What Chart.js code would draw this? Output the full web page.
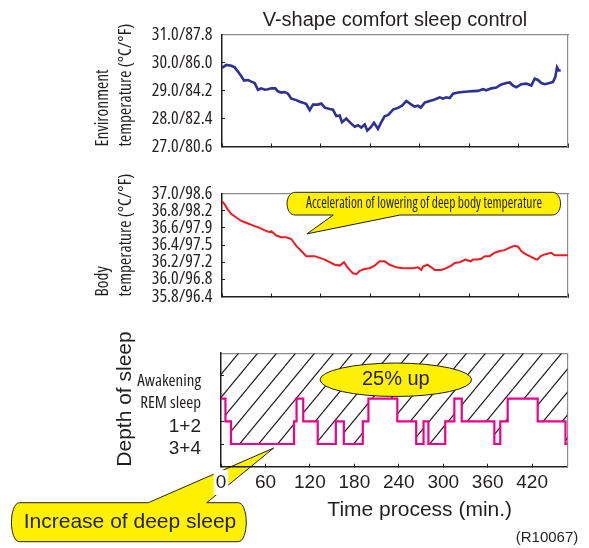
<!DOCTYPE html>
<html>
<head>
<meta charset="utf-8">
<script src="https://cdn.jsdelivr.net/npm/chart.js@4.4.1/dist/chart.umd.min.js"></script>
<style>
  html, body { margin: 0; padding: 0; background: #fff; }
  #wrap { position: relative; width: 589px; height: 548px; }
  canvas { position: absolute; left: 0; }
</style>
</head>
<body>
<div id="wrap">
  <canvas id="envChart" width="589" height="170" style="top:0"></canvas>
  <canvas id="bodyChart" width="589" height="150" style="top:170px"></canvas>
  <canvas id="sleepChart" width="589" height="228" style="top:320px"></canvas>
</div>
<script>
// environment temperature (min, deg C)
const envTime = [0, 5.8, 12.6, 17.2, 21.6, 26.1, 29.8, 35.2, 39.6, 44.2, 48.7, 53.2, 57.8, 62.2, 66.7, 72.1, 75.7, 80.2, 84.8, 89.3,
  93.7, 100.5, 105.1, 109.6, 114.0, 118.6, 123.1, 129.9, 134.3, 138.9, 145.7, 150.1, 154.6, 159.2, 162.3, 168.1, 172.7, 179.5, 184.0, 188.4,
  193.0, 196.5, 201.1, 205.6, 211.0, 215.5, 220.1, 224.5, 229.0, 231.3, 238.1, 243.5, 249.3, 256.1, 260.7, 265.1, 268.8, 274.2, 280.9, 287.7,
  294.5, 298.9, 303.4, 308.0, 312.5, 319.2, 326.0, 332.8, 339.5, 346.3, 353.0, 357.5, 364.3, 371.0, 377.8, 384.6, 389.2, 393.6, 398.1, 404.8,
  411.6, 418.4, 423.0, 427.4, 431.9, 436.5, 443.3, 447.7, 450.8, 453.1, 455.4, 458.1];
const envTemp = [29.81, 29.92, 29.89, 29.83, 29.68, 29.51, 29.36, 29.38, 29.32, 29.27, 29.03, 29.08, 29.03, 29.05, 29.08, 29.08, 28.97, 28.93, 28.95, 28.89,
  28.71, 28.66, 28.60, 28.57, 28.52, 28.30, 28.50, 28.50, 28.54, 28.39, 28.34, 28.32, 28.09, 28.11, 27.87, 28.00, 27.87, 27.71, 27.76, 27.68,
  27.79, 27.57, 27.68, 27.85, 27.63, 27.87, 28.09, 28.12, 28.25, 28.32, 28.38, 28.46, 28.63, 28.50, 28.43, 28.46, 28.39, 28.57, 28.63, 28.68,
  28.76, 28.71, 28.76, 28.73, 28.89, 28.93, 28.95, 28.97, 28.98, 28.99, 29.05, 29.01, 29.08, 29.11, 29.22, 29.27, 29.29, 29.18, 29.12, 29.23,
  29.25, 29.18, 29.43, 29.38, 29.27, 29.23, 29.27, 29.31, 29.48, 29.83, 29.72, 29.72];

// body temperature (min, deg C)
const bodyTime = [0, 3.7, 8.1, 12.6, 19.3, 26.1, 35.2, 44.2, 51.0, 57.8, 64.5, 66.7, 73.4, 80.2, 87.0, 93.7, 100.5, 107.3, 114.0, 118.6,
  125.4, 132.2, 138.9, 145.7, 152.4, 159.2, 165.0, 168.1, 172.7, 177.2, 181.7, 186.3, 193.0, 199.8, 206.5, 213.3, 220.1, 226.8, 235.8, 244.8,
  251.6, 258.4, 265.1, 269.6, 271.9, 277.7, 283.1, 287.7, 296.6, 303.4, 310.2, 314.8, 321.5, 329.1, 332.8, 336.4, 339.5, 346.3, 350.7, 355.3,
  362.1, 368.9, 375.6, 382.4, 389.2, 395.9, 400.4, 404.8, 409.4, 416.2, 423.0, 426.5, 431.1, 436.5, 445.4, 450.0, 458.9, 468];
const bodyTemp = [36.91, 36.87, 36.81, 36.76, 36.72, 36.68, 36.65, 36.62, 36.60, 36.57, 36.55, 36.56, 36.51, 36.49, 36.49, 36.47, 36.39, 36.33, 36.27, 36.27,
  36.27, 36.25, 36.23, 36.20, 36.17, 36.16, 36.20, 36.16, 36.11, 36.07, 36.06, 36.10, 36.12, 36.13, 36.16, 36.21, 36.21, 36.17, 36.14, 36.13,
  36.13, 36.13, 36.14, 36.11, 36.15, 36.17, 36.14, 36.11, 36.11, 36.13, 36.16, 36.19, 36.20, 36.23, 36.22, 36.21, 36.23, 36.23, 36.24, 36.27,
  36.27, 36.31, 36.33, 36.34, 36.37, 36.39, 36.38, 36.33, 36.30, 36.27, 36.24, 36.23, 36.27, 36.29, 36.31, 36.28, 36.28, 36.28];

// depth of sleep: 1 = 3+4, 2 = 1+2, 3 = REM sleep, 4 = Awakening
const sleepTime = [0, 6, 13.5, 98.6, 102, 111, 130.6, 155, 165.8, 191.4, 199, 238, 263.5, 273.4, 280, 302.7, 315, 325, 369, 377, 387, 427.5, 465, 468];
const sleepLevel = [3, 2, 1, 2, 3, 2, 1, 2, 1, 2, 3, 2, 1, 2, 1, 2, 3, 2, 1, 2, 3, 2, 1, 1];

const envTickLabels = ['27.0/80.6', '28.0/82.4', '29.0/84.2', '30.0/86.0', '31.0/87.8'];
const bodyTickLabels = ['35.8/96.4', '36.0/96.8', '36.2/97.2', '36.4/97.5', '36.6/97.9', '36.8/98.2', '37.0/98.6'];
const sleepStages = ['3+4', '1+2', 'REM sleep', 'Awakening'];
const timeTicks = [0, 60, 120, 180, 240, 300, 360, 420];

const COND = '"Open Sans"';
const SANS = '"Liberation Sans", Arial, sans-serif';
const INK = '#231f20';
const FRAME = '#8c8c8c';
const YELLOW = '#fff100';
const T_MAX = 468;

function pts(xs, ys) {
  return xs.map((x, i) => ({x: x, y: ys[i]}));
}

// condensed font for chart.js: the stretch keyword rides in the weight slot
function cond(size, lh) {
  return {family: COND, size: size, style: '', weight: 'condensed', lineHeight: lh || 1.2};
}

// hatch used above the sleep curve
function hatchPattern() {
  const c = document.createElement('canvas');
  c.width = 19; c.height = 23;
  const g = c.getContext('2d');
  g.strokeStyle = INK; g.lineWidth = 1.2;
  g.beginPath();
  [-19, 0, 19].forEach(dx => { g.moveTo(dx, 23); g.lineTo(dx + 19, 0); });
  g.stroke();
  return g.createPattern(c, 'repeat');
}

// yellow speech bubble, pointer on bottom or top edge
function bubble(ctx, l, r, t, b, baseA, baseB, tip, side) {
  const rad = 7, bulge = 4;
  ctx.save();
  ctx.beginPath();
  ctx.moveTo(l + rad, t);
  if (side === 'top') { ctx.lineTo(baseA, t); ctx.lineTo(tip.x, tip.y); ctx.lineTo(baseB, t); }
  ctx.lineTo(r - rad, t);
  ctx.bezierCurveTo(r + bulge, t, r + bulge, b, r - rad, b);
  if (side === 'bottom') { ctx.lineTo(baseB, b); ctx.lineTo(tip.x, tip.y); ctx.lineTo(baseA, b); }
  ctx.lineTo(l + rad, b);
  ctx.bezierCurveTo(l - bulge, b, l - bulge, t, l + rad, t);
  ctx.closePath();
  ctx.fillStyle = YELLOW;
  ctx.fill();
  ctx.strokeStyle = INK; ctx.lineWidth = 1;
  ctx.stroke();
  ctx.restore();
}

function text(ctx, str, x, y, font, align, width) {
  ctx.save();
  ctx.font = font;
  ctx.fillStyle = INK;
  ctx.textAlign = align || 'center';
  ctx.textBaseline = 'middle';
  ctx.translate(x, y);
  if (width) {
    const w = ctx.measureText(str).width;
    ctx.scale(Math.min(1, width / w), 1);
  }
  ctx.fillText(str, 0, 0);
  ctx.restore();
}

function sevenths(scale) {
  const t = [];
  for (let i = 0; i <= 7; i++) t.push({value: i * T_MAX / 7});
  scale.ticks = t;
}

function frameX() {
  return {position: 'top', display: true, ticks: {display: false}, grid: {display: false},
    border: {color: FRAME, width: 1.2}, afterFit: s => { s.height = 0; }};
}
function frameY() {
  return {position: 'right', display: true, ticks: {display: false}, grid: {display: false},
    border: {color: FRAME, width: 1.2}, afterFit: s => { s.width = 0; }};
}

const base = {
  responsive: false,
  animation: false,
  events: [],
  plugins: {legend: {display: false}, tooltip: {enabled: false}}
};

// ---- environment temperature ----
new Chart(document.getElementById('envChart'), {
  type: 'line',
  data: {datasets: [{data: pts(envTime, envTemp), borderColor: '#2e3192', borderWidth: 2.6, pointRadius: 0, tension: 0}]},
  options: Object.assign({}, base, {
    layout: {padding: {left: 0, right: 21, top: 0, bottom: 0}},
    plugins: {
      legend: {display: false}, tooltip: {enabled: false},
      title: {display: true, text: 'V-shape comfort sleep control', fullSize: false, color: INK,
        font: {family: SANS, size: 20, weight: 'normal', lineHeight: 1.2}, padding: {top: 8, bottom: 2.7}}
    },
    scales: {
      x: {type: 'linear', min: 0, max: T_MAX, afterBuildTicks: sevenths, ticks: {display: false},
        grid: {drawOnChartArea: false, tickLength: -3, color: INK},
        border: {color: INK, width: 1.5}, afterFit: s => { s.height = 11.3; }},
      x2: frameX(),
      y: {min: 27, max: 31, ticks: {stepSize: 1, autoSkip: false, padding: 12.7, color: INK, font: cond(18),
          callback: (v, i) => envTickLabels[i]},
        grid: {drawOnChartArea: false, tickLength: -3, color: INK},
        border: {color: INK, width: 1.5},
        title: {display: true, text: ['Environment', 'temperature (\u00b0C/\u00b0F)'], align: 'start', color: INK,
          font: cond(17.5, 1.3), padding: {top: 92, bottom: 0}},
        afterFit: s => { s.width = 222; }},
      y2: frameY()
    }
  })
});

// ---- body temperature ----
const bodyNote = {
  id: 'bodyNote',
  afterDatasetsDraw(chart) {
    const ctx = chart.ctx, xs = chart.scales.x, ys = chart.scales.y;
    const tip = {x: xs.getPixelForValue(115), y: ys.getPixelForValue(36.53)};
    bubble(ctx, 288.3, 559.3, 22.3, 45, 333.3, 400, tip, 'bottom');
    text(ctx, 'Acceleration of lowering of deep body temperature', 424, 33.5,
      'condensed 17px ' + COND, 'center', 236);
  }
};

new Chart(document.getElementById('bodyChart'), {
  type: 'line',
  data: {datasets: [{data: pts(bodyTime, bodyTemp), borderColor: '#ed1c24', borderWidth: 2, pointRadius: 0, tension: 0}]},
  options: Object.assign({}, base, {
    layout: {padding: {left: 0, right: 21, top: 11.2, bottom: 0}},
    scales: {
      x: {type: 'linear', min: 0, max: T_MAX, afterBuildTicks: sevenths, ticks: {display: false},
        grid: {drawOnChartArea: false, tickLength: -3, color: INK},
        border: {color: INK, width: 1.5}, afterFit: s => { s.height = 7.4; }},
      x2: frameX(),
      y: {min: 35.8, max: 37.0, ticks: {stepSize: 0.2, autoSkip: false, padding: 12.7, color: INK, font: cond(18),
          callback: (v, i) => bodyTickLabels[i]},
        grid: {drawOnChartArea: false, tickLength: -3, color: INK},
        border: {color: INK, width: 1.5},
        title: {display: true, text: ['Body', 'temperature (\u00b0C/\u00b0F)'], align: 'start', color: INK,
          font: cond(17.5, 1.3), padding: {top: 92, bottom: 0}},
        afterFit: s => { s.width = 222; }},
      y2: frameY()
    }
  }),
  plugins: [bodyNote]
});

// ---- depth of sleep ----
const sleepNotes = {
  id: 'sleepNotes',
  beforeDraw(chart) {
    const ctx = chart.ctx, xs = chart.scales.x, ys = chart.scales.y;
    const tip = {x: xs.getPixelForValue(71), y: ys.getPixelForValue(0.82)};
    bubble(ctx, 12.7, 245, 182.7, 221.7, 148.3, 206.7, tip, 'top');
    text(ctx, 'Increase of deep sleep', 130, 202, '21px ' + SANS);
  },
  afterDatasetsDraw(chart) {
    const ctx = chart.ctx, xs = chart.scales.x, ys = chart.scales.y;
    const cx = xs.getPixelForValue(236), cy = ys.getPixelForValue(3.83);
    ctx.save();
    ctx.beginPath();
    ctx.ellipse(cx, cy, 75.8, 16.7, 0, 0, Math.PI * 2);
    ctx.fillStyle = YELLOW; ctx.fill();
    ctx.strokeStyle = INK; ctx.lineWidth = 1; ctx.stroke();
    ctx.restore();
    text(ctx, '25% up', cx, cy, '20px ' + SANS);
  },
  afterDraw(chart) {
    const ctx = chart.ctx;
    text(ctx, 'Time process (min.)', 419.7, 190, '21px ' + SANS);
    text(ctx, '(R10067)', 578.3, 218, '15px ' + SANS, 'right');
  }
};

new Chart(document.getElementById('sleepChart'), {
  type: 'line',
  data: {datasets: [{data: pts(sleepTime, sleepLevel), stepped: true, fill: 'end', backgroundColor: hatchPattern(),
    borderColor: '#ec008c', borderWidth: 2.2, pointRadius: 0}]},
  options: Object.assign({}, base, {
    layout: {padding: {left: 0, right: 21.3, top: 14, bottom: 0}},
    scales: {
      x: {type: 'linear', min: 0, max: T_MAX,
        afterBuildTicks: s => { s.ticks = timeTicks.map(v => ({value: v})); },
        ticks: {padding: 7.4, color: INK, font: {family: SANS, size: 19}, maxRotation: 0, autoSkip: false,
          showLabelBackdrop: true, backdropColor: '#fff', backdropPadding: {x: 2, y: 1}},
        grid: {drawOnChartArea: false, tickLength: -3, color: INK},
        border: {color: INK, width: 1.5}, afterFit: s => { s.height = 81.3; }},
      x2: frameX(),
      y: {min: 0, max: 5,
        afterBuildTicks: s => { s.ticks = [1, 2, 3, 4].map(v => ({value: v})); },
        ticks: {padding: 23, labelOffset: 5, autoSkip: false, color: INK, callback: (v, i) => sleepStages[i],
          font: c => c.index >= 2 ? cond(17) : {family: SANS, size: 19}},
        grid: {drawOnChartArea: false, tickLength: -3, color: INK},
        border: {color: INK, width: 1.5},
        title: {display: true, text: 'Depth of sleep', align: 'start', color: INK,
          font: {family: SANS, size: 21, lineHeight: 1.2}, padding: {top: 112.5, bottom: 0}},
        afterFit: s => { s.width = 221; }},
      y2: frameY()
    }
  }),
  plugins: [sleepNotes]
});
</script>
</body>
</html>
